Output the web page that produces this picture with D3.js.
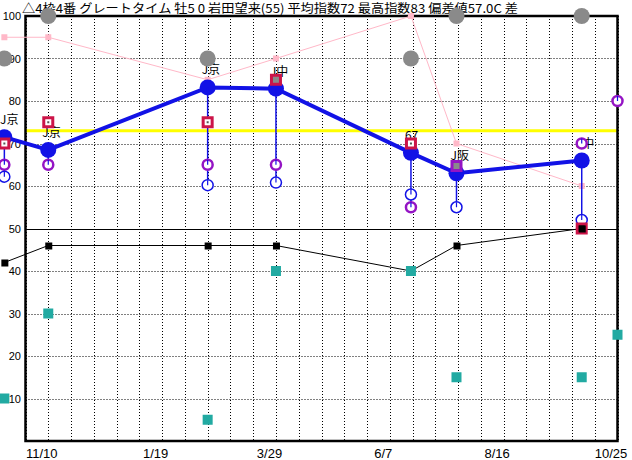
<!DOCTYPE html>
<html><head><meta charset="utf-8">
<script src="https://cdn.jsdelivr.net/npm/d3@7"></script>
<style>body{margin:0;background:#fff}svg{display:block}</style>
</head><body>
<svg id="c" width="632" height="460"></svg>
<script>
// ---------- data ----------
const titleText = "△4枠4番 グレートタイム 牡5 0 岩田望来(55) 平均指数72 最高指数83 偏差値57.0C 差";
const domainStart = "2019-10-27";
const domainEnd = "2020-10-25";
const firstTick = "2019-11-10";
const raceDates = ["2019-10-14","2019-11-10","2020-02-16","2020-03-29","2020-06-20","2020-07-18","2020-10-03","2020-10-25"];
const raceLabels = ["J京","J京","J京","J中","67","J阪","J中",null];
const indexValues = [71.5, 68.5, 83.2, 82.9, 67.8, 63, 66, null];      // blue main line
const squareValues = [70, 75, 75, 85, 70, 64.7, 50, null];            // red squares
const purpleValues = [65, 65, 65, 65, 55, null, 70, 80];              // purple rings
const ringValues   = [62.2, null, 60.2, 60.8, 58, 55, 52, null];      // blue rings
const grayValues   = [90, 100, 90, null, 90, 100, 100, null];         // gray dots
const pinkValues   = [95, 95, 85, 90, 100, 70, 60, null];             // pink line
const blackValues  = [42, 46, 46, 46, 40, 46, 50, null];              // black line
const tealValues   = [10, 30, 5, 40, 40, 15, 15, 25];                 // teal squares
const yTicks = [10,20,30,40,50,60,70,80,90,100];
const averageValue = 73;
const baseValue = 50;

// ---------- styles ----------
const C = {blue:"#1212e6", red:"#cc1448", purple:"#9414c4", gray:"#8a8a8a",
           pink:"#ffb8c8", teal:"#22aaa2", yellow:"#ffff00"};
const squareColor = i => i === 5 ? C.purple : C.red;
const squareInner = i => (i === 3 || i === 5) ? "#8a8a8a" : (i === 6 ? "#000" : "#fff");

const svg = d3.select("#c");
svg.append("rect").attr("width",632).attr("height",460).attr("fill","#fff");
const parse = d3.utcParse("%Y-%m-%d");
const dStart = parse(domainStart), dEnd = parse(domainEnd);
const x = d3.scaleUtc().domain([dStart, dEnd]).range([25.5, 617.5]);
const y = d3.scaleLinear().domain([0,100]).range([441,16]);
const dates = raceDates.map(parse);
const pts = vals => vals.map((v,i)=>({v,i,d:dates[i]})).filter(p=>p.v!=null);

// grid
const gridDates = d3.utcDay.range(dStart, d3.utcDay.offset(dEnd,1), 14);
const grid = svg.append("g").attr("stroke","#000").attr("stroke-width",1).attr("stroke-dasharray","1,2");
grid.selectAll("line.v").data(gridDates).join("line").attr("class","v")
  .attr("x1",d=>Math.round(x(d))+0.5).attr("x2",d=>Math.round(x(d))+0.5).attr("y1",y(100)).attr("y2",y(0));
grid.selectAll("line.h").data(yTicks.filter(t=>t!==baseValue && t!==100)).join("line").attr("class","h")
  .attr("x1",x(dStart)).attr("x2",x(dEnd)).attr("y1",d=>Math.round(y(d))+0.5).attr("y2",d=>Math.round(y(d))+0.5);

// base & average lines
svg.append("line").attr("x1",x(dStart)).attr("x2",x(dEnd)).attr("y1",Math.round(y(baseValue))+0.5).attr("y2",Math.round(y(baseValue))+0.5)
  .attr("stroke","#000").attr("stroke-width",1);
svg.append("line").attr("x1",x(dStart)).attr("x2",x(dEnd)).attr("y1",y(averageValue)).attr("y2",y(averageValue))
  .attr("stroke",C.yellow).attr("stroke-width",3);

// frame
svg.append("rect").attr("x",x(dStart)).attr("y",y(100)).attr("width",x(dEnd)-x(dStart)).attr("height",y(0)-y(100))
  .attr("fill","none").attr("stroke","#000").attr("stroke-width",2.5);

// axes
const xAxis = svg.append("g").attr("transform",`translate(0,${y(0)})`)
  .call(d3.axisBottom(x).tickValues(d3.utcDay.range(parse(firstTick), d3.utcDay.offset(dEnd,1), 70))
        .tickFormat(d3.utcFormat("%-m/%-d")).tickSize(0));
xAxis.select(".domain").remove();
xAxis.selectAll("text").attr("y",17).attr("dy",0).attr("dx",-7)
  .attr("font-family","'Liberation Sans', Arial, sans-serif").attr("font-size",13).attr("fill","#000");
const yAxis = svg.append("g").attr("transform",`translate(${x(dStart)-0.5},0)`)
  .call(d3.axisLeft(y).tickValues(yTicks).tickSize(0).tickPadding(4));
yAxis.select(".domain").remove();
yAxis.selectAll("text").attr("font-family","'Liberation Sans', Arial, sans-serif").attr("font-size",11).attr("fill","#000");

// title
svg.append("text").attr("x",22).attr("y",13).attr("textLength",496).attr("lengthAdjust","spacingAndGlyphs")
  .attr("font-family","'Noto Sans CJK JP', sans-serif").attr("font-size",12).attr("fill","#000").text(titleText);

// race labels
svg.append("g").selectAll("text").data(pts(indexValues).filter(p=>raceLabels[p.i])).join("text")
  .attr("x",p=>Math.max(0, x(p.d)-6)).attr("y",p=>y(p.v)-13)
  .attr("font-family","'Noto Sans CJK JP', sans-serif").attr("font-size",12).attr("fill","#000")
  .text(p=>raceLabels[p.i]);

// pink line
const line = d3.line().x(p=>x(p.d)).y(p=>y(p.v));
svg.append("path").attr("d",line(pts(pinkValues))).attr("fill","none").attr("stroke",C.pink).attr("stroke-width",1);
svg.append("g").selectAll("rect").data(pts(pinkValues)).join("rect")
  .attr("x",p=>x(p.d)-3).attr("y",p=>y(p.v)-3).attr("width",6).attr("height",6).attr("fill",C.pink);

// black line
svg.append("path").attr("d",line(pts(blackValues))).attr("fill","none").attr("stroke","#000").attr("stroke-width",1);

// blue main line
svg.append("path").attr("d",line(pts(indexValues))).attr("fill","none").attr("stroke",C.blue).attr("stroke-width",4);
svg.append("g").selectAll("circle").data(pts(indexValues)).join("circle")
  .attr("cx",p=>x(p.d)).attr("cy",p=>y(p.v)).attr("r",8).attr("fill",C.blue);

// vertical drop lines
const drops = pts(indexValues).map(p=>{
  const lows = [ringValues[p.i], purpleValues[p.i]].filter(v=>v!=null && v<p.v);
  return lows.length ? {d:p.d, v0:p.v, v1:d3.min(lows)} : null;
}).filter(Boolean);
svg.append("g").selectAll("line").data(drops).join("line")
  .attr("x1",p=>x(p.d)).attr("x2",p=>x(p.d)).attr("y1",p=>y(p.v0)).attr("y2",p=>y(p.v1)-5)
  .attr("stroke",C.blue).attr("stroke-width",1.5);

// rings
svg.append("g").selectAll("circle").data(pts(purpleValues)).join("circle")
  .attr("cx",p=>x(p.d)).attr("cy",p=>y(p.v)).attr("r",5).attr("fill","#fff").attr("stroke",C.purple).attr("stroke-width",2.5);
svg.append("g").selectAll("circle").data(pts(ringValues)).join("circle")
  .attr("cx",p=>x(p.d)).attr("cy",p=>y(p.v)).attr("r",5.5).attr("fill","#fff").attr("stroke",C.blue).attr("stroke-width",1.5);
svg.append("g").selectAll("line").data(pts(ringValues).concat(pts(purpleValues))).join("line")
  .attr("x1",p=>x(p.d)).attr("x2",p=>x(p.d)).attr("y1",p=>y(p.v)-5).attr("y2",p=>y(p.v))
  .attr("stroke",C.blue).attr("stroke-width",1.2);

// squares
const sq = svg.append("g").selectAll("g").data(pts(squareValues)).join("g")
  .attr("transform",p=>`translate(${x(p.d)},${y(p.v)})`);
sq.append("rect").attr("x",-6).attr("y",-6).attr("width",12).attr("height",12).attr("fill",p=>squareColor(p.i));
sq.append("rect").attr("x",-3).attr("y",-3).attr("width",6).attr("height",6).attr("fill",p=>squareInner(p.i));
sq.filter(p=>squareInner(p.i)==="#fff").append("rect").attr("x",-1).attr("y",-1).attr("width",2).attr("height",2).attr("fill","#555");

// black squares
svg.append("g").selectAll("rect").data(pts(blackValues)).join("rect")
  .attr("x",p=>x(p.d)-3).attr("y",p=>y(p.v)-3).attr("width",7).attr("height",7).attr("fill","#000");

// teal squares (drawn above black markers)
svg.append("g").selectAll("rect").data(pts(tealValues)).join("rect")
  .attr("x",p=>x(p.d)-5).attr("y",p=>y(p.v)-5).attr("width",10).attr("height",10).attr("fill",C.teal);

// gray dots
svg.append("g").selectAll("circle").data(pts(grayValues)).join("circle")
  .attr("cx",p=>x(p.d)).attr("cy",p=>y(p.v)).attr("r",8).attr("fill",C.gray);
</script>
</body></html>
